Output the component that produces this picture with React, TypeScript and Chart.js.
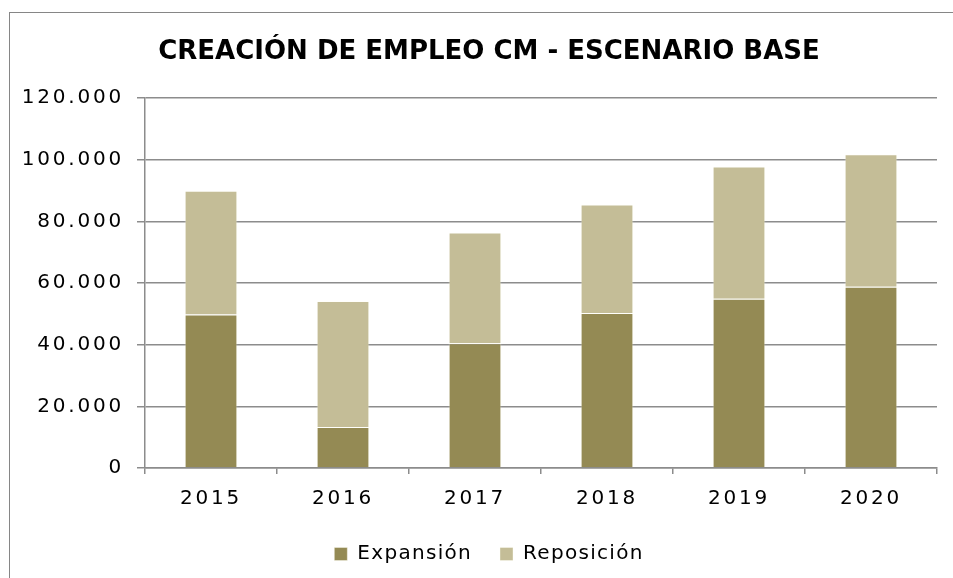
import React, { useEffect, useRef } from 'react';
import { Chart, registerables } from 'chart.js';

Chart.register(...registerables);

const titleText = 'CREACIÓN DE EMPLEO CM - ESCENARIO BASE';
const categories = ['2015', '2016', '2017', '2018', '2019', '2020'];
const expansion = [49800, 13300, 40500, 50300, 54900, 58800];
const reposicion = [40200, 40900, 35900, 35200, 42900, 43000];
const seriesNames = ['Expansión', 'Reposición'];
const seriesColors = ['#948A54', '#C4BD97'];
const yMin = 0;
const yMax = 120000;
const yStep = 20000;

const fmt = (v: number) => String(Math.round(v)).replace(/\B(?=(\d{3})+(?!\d))/g, '.');

const TICK_SP = '2.8px';
const LEG_SP = '1.3px';

export default function App() {
  const ref = useRef<HTMLCanvasElement>(null);

  useEffect(() => {
    const canvas = ref.current;
    if (!canvas) return;

    const spacingPlugin = {
      id: 'letterSpacingCtl',
      afterInit(chart: any) {
        const ctx = chart.ctx;
        const tb = chart.titleBlock;
        if (tb && !tb.__wrapped) {
          const d = tb.draw.bind(tb);
          tb.draw = (a: any) => {
            const p = ctx.letterSpacing;
            ctx.letterSpacing = '0px';
            d(a);
            ctx.letterSpacing = p;
          };
          tb.__wrapped = true;
        }
        const lg = chart.legend;
        if (lg && !lg.__wrapped) {
          const f = lg.fit.bind(lg);
          const dr = lg.draw.bind(lg);
          lg.fit = (...a: any[]) => {
            const p = ctx.letterSpacing;
            ctx.letterSpacing = LEG_SP;
            const r = f(...a);
            ctx.letterSpacing = p;
            return r;
          };
          lg.draw = (...a: any[]) => {
            const p = ctx.letterSpacing;
            ctx.letterSpacing = LEG_SP;
            const r = dr(...a);
            ctx.letterSpacing = p;
            return r;
          };
          lg.__wrapped = true;
        }
      },
      beforeLayout(chart: any) {
        chart.ctx.letterSpacing = TICK_SP;
        const ys = chart.scales && chart.scales.y;
        if (ys) ys._computeLabelArea = () => undefined;
      },
      beforeDraw(chart: any) {
        chart.ctx.letterSpacing = TICK_SP;
      },
    };

    const barBorder = 'rgba(255,255,245,0.4)';

    const chart = new Chart(canvas, {
      type: 'bar',
      data: {
        labels: categories,
        datasets: [
          {
            label: seriesNames[0],
            data: expansion,
            backgroundColor: seriesColors[0],
            borderColor: barBorder,
            borderWidth: 1,
            borderSkipped: 'start',
          },
          {
            label: seriesNames[1],
            data: reposicion,
            backgroundColor: seriesColors[1],
            borderColor: barBorder,
            borderWidth: 1,
            borderSkipped: 'start',
          },
        ],
      },
      options: {
        responsive: false,
        animation: false,
        events: [],
        layout: { padding: { left: 31, right: 31, top: 0, bottom: 19 } },
        datasets: {
          bar: { categoryPercentage: 0.4, barPercentage: 1 },
        },
        plugins: {
          title: {
            display: true,
            text: titleText,
            color: '#000',
            font: { family: 'DejaVu Sans', size: 26, weight: 'bold' },
            padding: { top: 24, bottom: 30 },
          },
          legend: {
            display: true,
            position: 'bottom',
            labels: {
              color: '#000',
              font: { family: 'DejaVu Sans', size: 20 },
              boxWidth: 13,
              boxHeight: 13,
              padding: 28,
            },
          },
          tooltip: { enabled: false },
        },
        scales: {
          x: {
            stacked: true,
            grid: {
              display: true,
              drawOnChartArea: false,
              drawTicks: true,
              tickLength: 6,
              color: '#8c8c8c',
              lineWidth: 1.5,
              offset: true,
            },
            border: { display: true, color: '#8c8c8c', width: 1.5 },
            ticks: {
              color: '#000',
              font: { family: 'DejaVu Sans', size: 20 },
              padding: 13,
              maxRotation: 0,
            },
            afterFit: (scale: any) => {
              scale.height = scale.height - 8;
            },
          },
          y: {
            stacked: true,
            min: yMin,
            max: yMax,
            grid: {
              display: true,
              drawTicks: true,
              tickLength: 8,
              color: '#8c8c8c',
              lineWidth: 1.5,
            },
            border: { display: true, color: '#8c8c8c', width: 1.5 },
            ticks: {
              stepSize: yStep,
              color: '#000',
              font: { family: 'DejaVu Sans', size: 20 },
              padding: 13,
              callback: (v: any) => fmt(Number(v)),
            },
            afterFit: (scale: any) => {
              scale.width = 104;
            },
          },
        },
      },
      plugins: [spacingPlugin],
    });

    return () => chart.destroy();
  }, []);

  return (
    <div
      style={{
        position: 'fixed',
        left: 0,
        top: 0,
        width: 953,
        height: 578,
        overflow: 'hidden',
        background: '#fff',
      }}
    >
      <div
        style={{
          position: 'absolute',
          left: 9,
          top: 12,
          width: 980,
          height: 640,
          border: '1px solid #868686',
          boxSizing: 'border-box',
        }}
      />
      <canvas
        ref={ref}
        width={958}
        height={580}
        style={{ position: 'absolute', left: 10, top: 13, width: 958, height: 580 }}
      />
    </div>
  );
}
